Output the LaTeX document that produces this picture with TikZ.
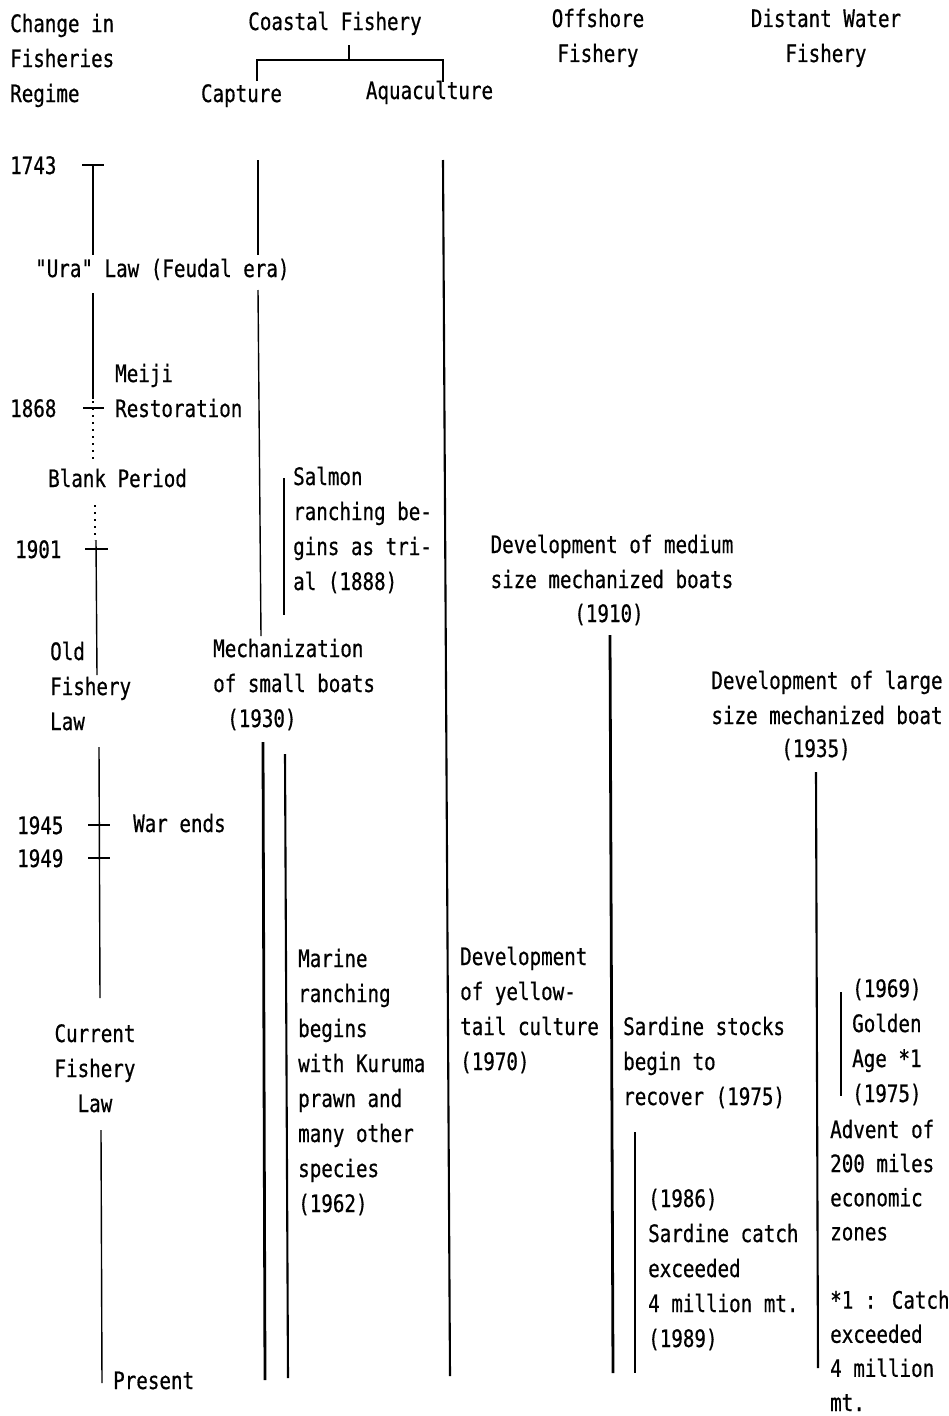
\documentclass[tikz,border=0pt]{standalone}
\usepackage{fontspec}
\newfontfamily\twfam{DejaVu Sans Mono}[FakeStretch=0.8,FakeBold=0.6]
\newcommand\typew{\twfam\fontsize{24}{35}\selectfont}
\newcommand\lns[2][l]{\begin{tabular}[t]{@{}#1@{}}#2\end{tabular}}
\begin{document}
\begin{tikzpicture}[x=1pt,y=-1pt]
\tikzset{
  lbl/.style={inner sep=0pt, anchor=base west, font=\typew},
  ctr/.style={inner sep=0pt, anchor=base, font=\typew},
  tl/.style={line width=1.4pt},
  med/.style={line width=2.1pt},
  thk/.style={line width=2.8pt},
  dots/.style={line width=1.7pt, dash pattern=on 1.7pt off 5.3pt},
}
\useasboundingbox[fill=white] (0,0) rectangle (949,1416);

% ---- column headings ----
\node[lbl] (regime) at (10,32) {\lns{Change in\\Fisheries\\Regime}};
\node[ctr] (coastal) at (335,30) {Coastal Fishery};
\node[ctr] (capture) at (241.5,102) {Capture};
\node[ctr] (aqua) at (429.5,99) {Aquaculture};
\node[ctr] (offshore) at (598,27) {\lns[c]{Offshore\\Fishery}};
\node[ctr] (distant) at (826,27) {\lns[c]{Distant Water\\Fishery}};

% bracket under the coastal heading
\coordinate (brtop) at (349,45);
\coordinate (brmid) at (349,60);
\coordinate (brl) at (257,60);
\coordinate (brr) at (443,60);
\coordinate (brlend) at (257,81);
\coordinate (brrend) at (443,82);
\draw[tl] (brtop) -- (brmid);
\draw[tl] (brlend) -- (brl) -- (brr) -- (brrend);

% ---- regime timeline ----
\node[lbl] (y1743) at (10,174) {1743};
\node[lbl] (ura) at (35,277) {"Ura" Law (Feudal era)};
\node[lbl] (meiji) at (115,382) {\lns{Meiji\\Restoration}};
\node[lbl] (y1868) at (10,417) {1868};
\node[lbl] (blank) at (48,487) {Blank Period};
\node[lbl] (y1901) at (15,558) {1901};
\node[lbl] (oldlaw) at (50,660) {\lns{Old\\Fishery\\Law}};
\node[lbl] (y1945) at (17,834) {1945};
\node[lbl] (war) at (133,832) {War ends};
\node[lbl] (y1949) at (17,867) {1949};
\node[ctr] (curlaw) at (95,1042) {\lns[c]{Current\\Fishery\\Law}};
\node[lbl] (present) at (113,1389) {Present};

\draw[tl] (82,165) -- (104,165);
\draw[tl] (93,165) -- (93,255);
\draw[tl] (93,293) -- (93,399);
\draw[dots] (93,401) -- (93,462);
\draw[tl] (83,408) -- (104,408);
\draw[dots] (95,505) -- (95,540);
\draw[tl] (85,549) -- (108,549);
\draw[tl] (96,540) -- (97,675);
\draw[tl] (99,747) -- (100,998);
\draw[tl] (88,825) -- (110,825);
\draw[tl] (88,858) -- (110,858);
\draw[tl] (101,1130) -- (102,1383);

% ---- coastal capture ----
\draw[tl] (258,160) -- (258,255);
\draw[tl] (258,290) -- (261,636);
\node[lbl] (salmon) at (293,485) {\lns{Salmon\\ranching be-\\gins as tri-\\al (1888)}};
\draw[tl] (284,478) -- (284,615);
\node[lbl] (mech) at (213,657) {\lns{Mechanization\\of small boats}};
\node[lbl] (mechyr) at (227,727) {(1930)};
\draw[thk] (263,742) -- (265,1380);
\draw[med] (285,754) -- (288,1378);
\node[lbl] (marine) at (298,967) {\lns{Marine\\ranching\\begins\\with Kuruma\\prawn and\\many other\\species\\(1962)}};

% ---- coastal aquaculture ----
\draw[med] (443,160) -- (450,1376);
\node[lbl] (yellow) at (460,965) {\lns{Development\\of yellow-\\tail culture\\(1970)}};

% ---- offshore ----
\node[ctr] (medium) at (612,553) {\lns[c]{Development of medium\\size mechanized boats}};
\node[ctr] (mediumyr) at (609,622) {(1910)};
\draw[thk] (610,635) -- (613,1373);
\node[lbl] (sardine) at (623,1035) {\lns{Sardine stocks\\begin to\\recover (1975)}};
\draw[med] (635,1132) -- (635,1373);
\node[lbl] (catch) at (648,1207) {\lns{(1986)\\Sardine catch\\exceeded\\4 million mt.\\(1989)}};

% ---- distant water ----
\node[ctr] (large) at (827,689) {\lns[c]{Development of large\\size mechanized boat}};
\node[ctr] (largeyr) at (816,757) {(1935)};
\draw[med] (816,772) -- (818,1368);
\draw[med] (841,992) -- (841,1096);
\node[lbl] (golden) at (852,997) {\lns{(1969)\\Golden\\Age *1\\(1975)}};
\node[lbl] (advent) at (830,1138) {\renewcommand\arraystretch{0.975}\lns{Advent of\\200 miles\\economic\\zones\\[0pt]\\ \relax *1 : Catch\\exceeded\\4 million\\mt.}};
\end{tikzpicture}
\end{document}
